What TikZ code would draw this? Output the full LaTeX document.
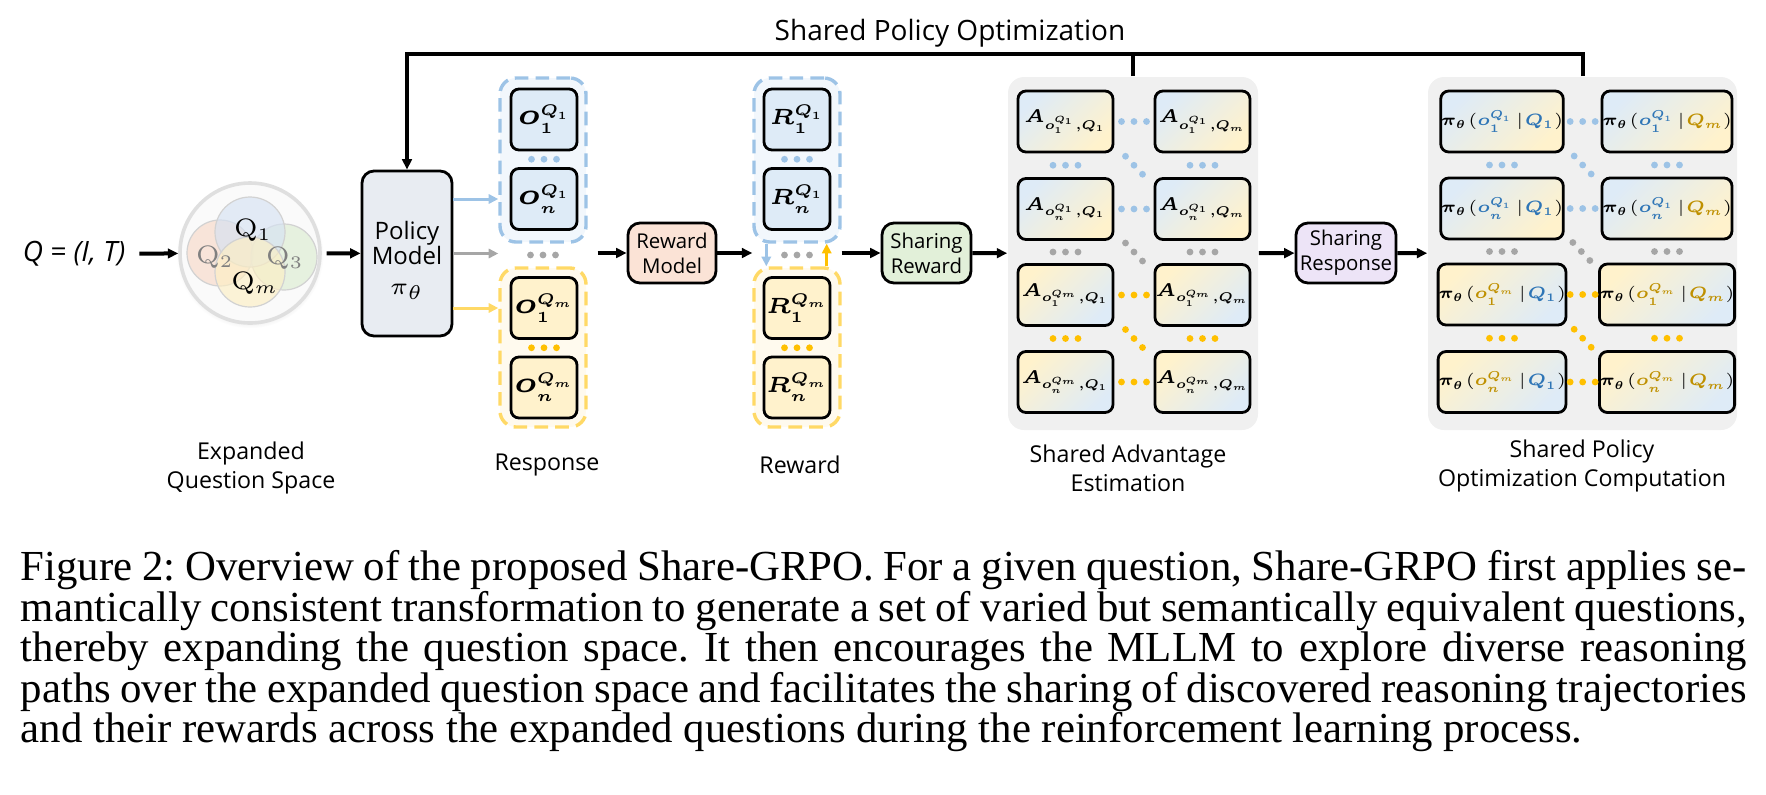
\RequirePackage{fix-cm}
\documentclass[tikz,border=0pt]{standalone}
\usepackage{amsmath,amssymb,bm,graphicx}
\usepackage{fontspec}
\usetikzlibrary{arrows.meta, calc, positioning, shadows}
\newfontfamily\sansText{Open Sans}
\newfontfamily\captionText{Liberation Serif}
\definecolor{blueFill}{HTML}{DEEBF7}
\definecolor{yellowFill}{HTML}{FFF2CC}
\definecolor{blueBack}{HTML}{F2F7FC}
\definecolor{yellowBack}{HTML}{FFFAEE}
\definecolor{blueLine}{HTML}{9DC3E6}
\definecolor{yellowLine}{HTML}{FFD966}
\definecolor{grayDot}{HTML}{A6A6A6}
\definecolor{yellowDot}{HTML}{FFC000}
\definecolor{blueText}{HTML}{2E75B6}
\definecolor{goldText}{HTML}{BF9000}
\definecolor{panelGray}{HTML}{F0F0F0}
\definecolor{policyFill}{HTML}{E8ECF2}
\definecolor{salmonFill}{HTML}{FBE3D6}
\definecolor{greenFill}{HTML}{E2F0D9}
\definecolor{lilacFill}{HTML}{EDE4F7}
\definecolor{qOne}{HTML}{D6E2F3}
\definecolor{qTwo}{HTML}{F8D9C8}
\definecolor{qThree}{HTML}{DCEDD2}
\definecolor{qEm}{HTML}{FDEFC4}
\newcommand{\oBig}{\scalebox{1.35}{$\boldsymbol{o}$}}
\newcommand{\threeDots}[4]{\fill[#1] #2 ++(-#3,-#4) circle (0.85pt) ++(#3,#4) circle (0.85pt) ++(#3,#4) circle (0.85pt);}
\newcommand{\cB}[1]{\textcolor{blueText}{#1}}
\newcommand{\cG}[1]{\textcolor{goldText}{#1}}
\newcommand{\polText}[2]{$\boldsymbol{\pi_\theta}\mspace{1mu}(#1\mspace{2mu}|\mspace{1mu}#2)$}

\begin{document}
\begin{tikzpicture}
        [
        x=0.25pt, y=-0.25pt,
            smallBox/.style={
                rectangle,
                rounded corners=2pt,
                draw=black,
                line width=0.7pt,
                minimum width=16.5pt,
                minimum height=15.25pt,
                inner sep=0pt,
                font=\fontsize{5.5}{6}\selectfont
            },
            groupBox/.style={
                rectangle,
                rounded corners=4pt,
                dash pattern=on 3.4pt off 1.8pt,
                line width=0.85pt,
                minimum width=21.5pt
            },
            stageBox/.style={
                rectangle,
                rounded corners=3pt,
                draw=black,
                line width=0.7pt,
                align=center,
                inner sep=0pt,
                minimum height=15pt,
                font=\sansText\fontsize{5.1}{6.3}\selectfont
            },
            panel/.style={
                rectangle,
                rounded corners=4pt,
                fill=panelGray,
                minimum height=88.25pt
            },
            advBox/.style={smallBox, minimum width=23.75pt, font=\fontsize{4.5}{5}\selectfont},
            polBox/.style={smallBox, minimum width=30pt, font=\fontsize{4.1}{5}\selectfont},
            blueFirst/.style={top color=blueFill, bottom color=yellowFill, shading angle=45},
            yellowFirst/.style={top color=yellowFill, bottom color=blueFill, shading angle=45},
            qCircle/.style={circle, draw=gray!35, line width=0.3pt, fill opacity=0.65},
            labelText/.style={font=\sansText\fontsize{5.8}{7.25}\selectfont, align=center},
            flowArrow/.style={
                -{Triangle[length=2.6pt, width=2.4pt]},
                line width=1pt
            },
            colorArrow/.style={
                -{Triangle[length=2.4pt, width=2.3pt]},
                line width=0.75pt
            }
        ]
        \useasboundingbox (0,0) rectangle (1766,794);

        % question and expanded question space
        \node(inputQ) [font=\sansText\itshape\fontsize{7}{8}\selectfont] at (74,254) {Q = (I, T)};
        \node(questionSpace) [circle, minimum size=35pt, fill=gray!4, draw=gray!25, line width=0.9pt,
            circular drop shadow={shadow xshift=0pt, shadow yshift=-0.4pt, shadow scale=1.05, opacity=0.2}] at (250,253) {};
        \node(circleTwo) [qCircle, fill=qTwo, minimum size=16.5pt] at (220,253) {};
        \node(circleThree) [qCircle, fill=qThree, minimum size=16.5pt] at (284,257) {};
        \node(circleOne) [qCircle, fill=qOne, minimum size=17.5pt] at (250,232) {};
        \node(circleEm) [qCircle, fill=qEm, minimum size=17.5pt] at (250,272) {};
        \node(labelOne) [font=\fontsize{6.3}{7}\selectfont] at (253,230) {Q$_1$};
        \node(labelTwo) [font=\fontsize{6.3}{7}\selectfont, text=gray] at (215,257) {Q$_2$};
        \node(labelThree) [font=\fontsize{6.3}{7}\selectfont, text=gray] at (285,258) {Q$_3$};
        \node(labelEm) [font=\fontsize{6.3}{7}\selectfont] at (255,283) {Q$_m$};

        % policy model
        \node(policyModel) [stageBox, fill=policyFill, minimum width=22.5pt, minimum height=41.25pt,
            font=\sansText\fontsize{6}{6.3}\selectfont] at (407,253.5) {\rule{0pt}{8pt}Policy\\Model\\[1.2pt]$\pi_\theta$};

        % responses
        \node(respBlue) [groupBox, draw=blueLine, fill=blueBack, minimum height=41pt] at (543,160) {};
        \node(respYellow) [groupBox, draw=yellowLine, fill=yellowBack, minimum height=39.75pt] at (543,347.5) {};
        \node(oOneBlue) [smallBox, fill=blueFill] at (544,119.5) {$\oBig_{\boldsymbol{1}}^{\boldsymbol{Q_1}}$};
        \node(oEnBlue) [smallBox, fill=blueFill] at (544,199) {$\oBig_{\boldsymbol{n}}^{\boldsymbol{Q_1}}$};
        \node(oOneYellow) [smallBox, fill=yellowFill] at (544,308) {$\oBig_{\boldsymbol{1}}^{\boldsymbol{Q_m}}$};
        \node(oEnYellow) [smallBox, fill=yellowFill] at (544,387.5) {$\oBig_{\boldsymbol{n}}^{\boldsymbol{Q_m}}$};

        % reward model and rewards
        \node(rewardModel) [stageBox, fill=salmonFill, minimum width=22pt] at (672,253) {Reward\\Model};
        \node(rewBlue) [groupBox, draw=blueLine, fill=blueBack, minimum height=41pt] at (797,160) {};
        \node(rewYellow) [groupBox, draw=yellowLine, fill=yellowBack, minimum height=39.75pt] at (797,347.5) {};
        \node(rOneBlue) [smallBox, fill=blueFill] at (797,119.5) {$\boldsymbol{R_1^{Q_1}}$};
        \node(rEnBlue) [smallBox, fill=blueFill] at (797,199) {$\boldsymbol{R_n^{Q_1}}$};
        \node(rOneYellow) [smallBox, fill=yellowFill] at (797,308) {$\boldsymbol{R_1^{Q_m}}$};
        \node(rEnYellow) [smallBox, fill=yellowFill] at (797,387.5) {$\boldsymbol{R_n^{Q_m}}$};

        \node(sharingReward) [stageBox, fill=greenFill, minimum width=22.25pt] at (926.5,253) {Sharing\\Reward};

        % shared advantage estimation
        \node(advPanel) [panel, minimum width=62.5pt] at (1133,253.5) {};
        \node(advA) [advBox, blueFirst] at (1065.5,121.5) {$\boldsymbol{A_{o_1^{Q_1},Q_1}}$};
        \node(advB) [advBox, blueFirst] at (1202.5,121.5) {$\boldsymbol{A_{o_1^{Q_1},Q_m}}$};
        \node(advC) [advBox, blueFirst] at (1065.5,209) {$\boldsymbol{A_{o_n^{Q_1},Q_1}}$};
        \node(advD) [advBox, blueFirst] at (1202.5,209) {$\boldsymbol{A_{o_n^{Q_1},Q_m}}$};
        \node(advE) [advBox, yellowFirst] at (1065.5,295) {$\boldsymbol{A_{o_1^{Q_m},Q_1}}$};
        \node(advF) [advBox, yellowFirst] at (1202.5,295) {$\boldsymbol{A_{o_1^{Q_m},Q_m}}$};
        \node(advG) [advBox, yellowFirst] at (1065.5,382) {$\boldsymbol{A_{o_n^{Q_m},Q_1}}$};
        \node(advH) [advBox, yellowFirst] at (1202.5,382) {$\boldsymbol{A_{o_n^{Q_m},Q_m}}$};

        \node(sharingResponse) [stageBox, fill=lilacFill, minimum width=25pt] at (1346,253) {Sharing\\Response};

        % shared policy optimization computation
        \node(polPanel) [panel, minimum width=77.25pt] at (1582.5,253.5) {};
        \node(polA) [polBox, blueFirst] at (1502,121.5) {\polText{\cB{\boldsymbol{o_1^{Q_1}}}}{\cB{\boldsymbol{Q_1}}}};
        \node(polB) [polBox, blueFirst] at (1667,121.5) {\polText{\cB{\boldsymbol{o_1^{Q_1}}}}{\cG{\boldsymbol{Q_m}}}};
        \node(polC) [polBox, blueFirst] at (1502,208.5) {\polText{\cB{\boldsymbol{o_n^{Q_1}}}}{\cB{\boldsymbol{Q_1}}}};
        \node(polD) [polBox, blueFirst] at (1667,208.5) {\polText{\cB{\boldsymbol{o_n^{Q_1}}}}{\cG{\boldsymbol{Q_m}}}};
        \node(polE) [polBox, yellowFirst] at (1502,294.5) {\polText{\cG{\boldsymbol{o_1^{Q_m}}}}{\cB{\boldsymbol{Q_1}}}};
        \node(polF) [polBox, yellowFirst] at (1667,294.5) {\polText{\cG{\boldsymbol{o_1^{Q_m}}}}{\cG{\boldsymbol{Q_m}}}};
        \node(polG) [polBox, yellowFirst] at (1502,382) {\polText{\cG{\boldsymbol{o_n^{Q_m}}}}{\cB{\boldsymbol{Q_1}}}};
        \node(polH) [polBox, yellowFirst] at (1667,382) {\polText{\cG{\boldsymbol{o_n^{Q_m}}}}{\cG{\boldsymbol{Q_m}}}};

        % dots
        \threeDots{blueLine}{($(oOneBlue.south)!0.5!(oEnBlue.north)$)}{12.5}{0}
        \threeDots{grayDot}{($(respBlue.south)!0.5!(respYellow.north)$)}{12.5}{0}
        \threeDots{yellowDot}{($(oOneYellow.south)!0.5!(oEnYellow.north)$)}{12.5}{0}
        \threeDots{blueLine}{($(rOneBlue.south)!0.5!(rEnBlue.north)$)}{12.5}{0}
        \threeDots{grayDot}{($(rewBlue.south)!0.5!(rewYellow.north)$)}{12.5}{0}
        \threeDots{yellowDot}{($(rOneYellow.south)!0.5!(rEnYellow.north)$)}{12.5}{0}

        \threeDots{blueLine}{($(advA.east)!0.5!(advB.west)$)}{12.5}{0}
        \threeDots{blueLine}{($(advC.east)!0.5!(advD.west)$)}{12.5}{0}
        \threeDots{yellowDot}{($(advE.east)!0.5!(advF.west)$)}{12.5}{0}
        \threeDots{yellowDot}{($(advG.east)!0.5!(advH.west)$)}{12.5}{0}
        \threeDots{blueLine}{($(advA.south)!0.5!(advC.north)$)}{12.5}{0}
        \threeDots{blueLine}{($(advB.south)!0.5!(advD.north)$)}{12.5}{0}
        \threeDots{grayDot}{($(advC.south)!0.5!(advE.north)$)}{12.5}{0}
        \threeDots{grayDot}{($(advD.south)!0.5!(advF.north)$)}{12.5}{0}
        \threeDots{yellowDot}{($(advE.south)!0.5!(advG.north)$)}{12.5}{0}
        \threeDots{yellowDot}{($(advF.south)!0.5!(advH.north)$)}{12.5}{0}
        \threeDots{blueLine}{($(advA.south east)!0.5!(advD.north west)$)}{8.5}{9}
        \threeDots{grayDot}{($(advC.south east)!0.5!(advF.north west)$)}{8.5}{9}
        \threeDots{yellowDot}{($(advE.south east)!0.5!(advH.north west)$)}{8.5}{9}

        \threeDots{blueLine}{($(polA.east)!0.5!(polB.west)$)}{12.5}{0}
        \threeDots{blueLine}{($(polC.east)!0.5!(polD.west)$)}{12.5}{0}
        \threeDots{yellowDot}{($(polE.east)!0.5!(polF.west)$)}{12.5}{0}
        \threeDots{yellowDot}{($(polG.east)!0.5!(polH.west)$)}{12.5}{0}
        \threeDots{blueLine}{($(polA.south)!0.5!(polC.north)$)}{12.5}{0}
        \threeDots{blueLine}{($(polB.south)!0.5!(polD.north)$)}{12.5}{0}
        \threeDots{grayDot}{($(polC.south)!0.5!(polE.north)$)}{12.5}{0}
        \threeDots{grayDot}{($(polD.south)!0.5!(polF.north)$)}{12.5}{0}
        \threeDots{yellowDot}{($(polE.south)!0.5!(polG.north)$)}{12.5}{0}
        \threeDots{yellowDot}{($(polF.south)!0.5!(polH.north)$)}{12.5}{0}
        \threeDots{blueLine}{($(polA.south east)!0.5!(polD.north west)$)}{8.5}{9}
        \threeDots{grayDot}{($(polC.south east)!0.5!(polF.north west)$)}{8.5}{9}
        \threeDots{yellowDot}{($(polE.south east)!0.5!(polH.north west)$)}{8.5}{9}

        % arrows
        \draw[flowArrow] (inputQ)--(questionSpace);
        \draw[flowArrow, shorten <=1.2pt] (questionSpace)--(policyModel);
        \draw[colorArrow, blueLine] (policyModel.east |- oEnBlue)--(respBlue.west |- oEnBlue);
        \draw[colorArrow, grayDot] (policyModel)--(respBlue.west |- policyModel);
        \draw[colorArrow, yellowLine] (policyModel.east |- oOneYellow)--(respYellow.west |- oOneYellow);
        \draw[flowArrow, shorten <=2.5pt] (respBlue.east |- rewardModel)--(rewardModel);
        \draw[flowArrow] (rewardModel)--(rewBlue.west |- rewardModel);
        \draw[colorArrow, blueLine] ($(rewBlue.south west)+(14,0)$)--($(rewYellow.north west)+(14,0)$);
        \draw[colorArrow, yellowDot] ($(rewYellow.north east)+(-15,0)$)--($(rewBlue.south east)+(-15,0)$);
        \draw[flowArrow] (rewBlue.east |- sharingReward)--(sharingReward);
        \draw[flowArrow] (sharingReward)--(advPanel);
        \draw[flowArrow] (advPanel)--(sharingResponse);
        \draw[flowArrow] (sharingResponse)--(polPanel);
        \draw[line width=1pt] (advPanel.north)--++(0,-22);
        \draw[flowArrow] (polPanel.north)--++(0,-22) -| (policyModel.north);
        \node(loopTitle) [font=\sansText\fontsize{7}{8}\selectfont] at (950,33) {Shared Policy Optimization};

        % labels
        \node(labelSpace) [labelText] at (251,468) {Expanded\\Question Space};
        \node(labelResponse) [labelText] at (547,465) {Response};
        \node(labelReward) [labelText] at (800,465) {Reward};
        \node(labelAdvantage) [labelText] at (1128,468) {Shared Advantage\\Estimation};
        \node(labelPolicy) [labelText] at (1582,466) {Shared Policy\\Optimization Computation};

        % caption
        \node(figCaption) [anchor=north west, inner sep=0pt, text width=431.5pt, align=justify,
            font=\captionText\fontsize{10.7}{10.1}\selectfont\frenchspacing] at (20,550)
            {Figure 2: Overview of the proposed Share-GRPO. For a given question, Share-GRPO first applies se-\linebreak
            mantically consistent transformation to generate a set of varied but semantically equivalent questions,\linebreak
            thereby expanding the question space. It then encourages the MLLM to explore diverse reasoning\linebreak
            paths over the expanded question space and facilitates the sharing of discovered reasoning trajectories\linebreak
            and their rewards across the expanded questions during the reinforcement learning process.};
    \end{tikzpicture}
\end{document}
